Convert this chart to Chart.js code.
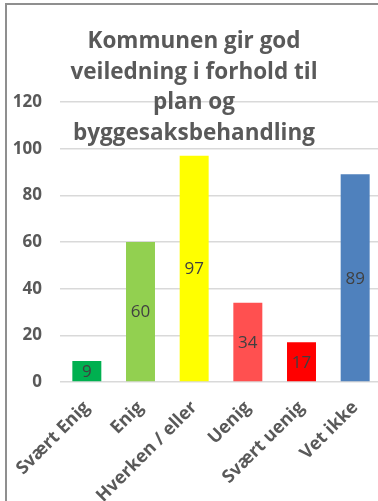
<!DOCTYPE html>
<html>
<head>
<meta charset="utf-8">
<script src="https://cdn.jsdelivr.net/npm/chart.js@4/dist/chart.umd.min.js"></script>
<style>
  html, body { margin: 0; padding: 0; overflow: hidden; background: #fff; }
  #frame { position: absolute; left: 5px; top: 3px; width: 420px; height: 540px; border: 2px solid #8f8f8f; }
  #wrap { position: absolute; left: 0; top: 0; width: 390px; height: 501px; }
</style>
</head>
<body>
<div id="frame"></div>
<div id="wrap"><canvas id="myChart" width="390" height="501"></canvas></div>
<script>
const titleLines = ['Kommunen gir god', 'veiledning i forhold til', 'plan og', 'byggesaksbehandling'];
const categories = ['Svært Enig', 'Enig', 'Hverken / eller', 'Uenig', 'Svært uenig', 'Vet ikke'];
const answers = [9, 60, 97, 34, 17, 89];
const barColors = ['#00b050', '#92d050', '#ffff00', '#ff5050', '#ff0000', '#4f81bd'];
const yTicks = [0, 20, 40, 60, 80, 100, 120];

const grey = '#595959';
const fontFamily = '"Open Sans", "DejaVu Sans", sans-serif';

// title is painted by hand so it can sit over the top of the plot
const titlePlugin = {
    id: 'bigTitle',
    afterDraw(chart) {
        const c = chart.ctx;
        c.save();
        c.fillStyle = grey;
        c.font = 'bold 22.5px ' + fontFamily;
        c.textAlign = 'center';
        c.textBaseline = 'middle';
        titleLines.forEach((line, i) => c.fillText(line, 194, 42 + i * 30.5));
        c.restore();
    }
};

// value printed in the middle of each bar
const valuePlugin = {
    id: 'barValues',
    afterDatasetsDraw(chart) {
        const c = chart.ctx;
        const meta = chart.getDatasetMeta(0);
        c.save();
        c.fillStyle = '#404040';
        c.font = '17px ' + fontFamily;
        c.textAlign = 'center';
        c.textBaseline = 'middle';
        meta.data.forEach((bar, i) => {
            c.fillText(String(answers[i]), bar.x, (bar.y + bar.base) / 2 + 1);
        });
        c.restore();
    }
};

window.addEventListener('load', setup);

function setup() {
    const ctx = document.getElementById('myChart').getContext('2d');
    new Chart(ctx, {
        type: 'bar',
        data: {
            labels: categories,
            datasets: [{
                data: answers,
                backgroundColor: barColors,
                categoryPercentage: 1,
                barPercentage: 0.54
            }]
        },
        options: {
            responsive: false,
            animation: false,
            layout: { padding: { top: 102, right: 8, left: 0, bottom: 0 } },
            plugins: {
                legend: { display: false },
                title: { display: false },
                tooltip: { enabled: false }
            },
            scales: {
                x: {
                    grid: { display: false },
                    border: { display: false },
                    ticks: {
                        color: grey,
                        font: { family: fontFamily, size: 18, weight: 'bold' },
                        minRotation: 45,
                        maxRotation: 45,
                        padding: 7
                    },
                    afterFit(scale) { scale.height = 119; }
                },
                y: {
                    min: 0,
                    max: 120,
                    afterBuildTicks(scale) { scale.ticks = yTicks.map(v => ({ value: v })); },
                    grid: { color: '#d9d9d9', lineWidth: 1.5, drawTicks: false },
                    border: { display: false },
                    ticks: {
                        color: grey,
                        font: { family: fontFamily, size: 17, weight: 'bold' },
                        padding: 18
                    },
                    afterFit(scale) { scale.width = 60; }
                }
            }
        },
        plugins: [valuePlugin, titlePlugin]
    });
}
</script>
</body>
</html>
